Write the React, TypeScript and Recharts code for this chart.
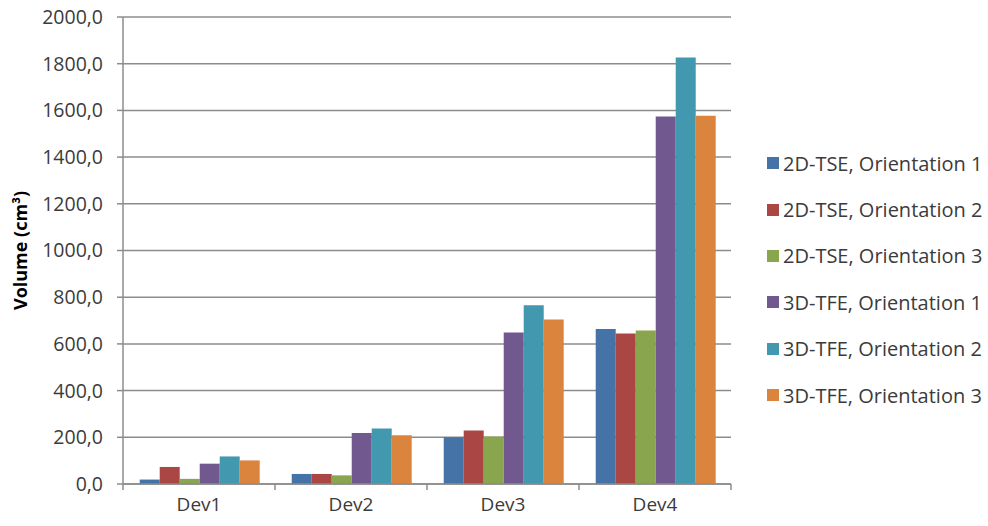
import { Bar, BarChart, CartesianGrid, XAxis, YAxis } from 'recharts'

const categories = ['Dev1', 'Dev2', 'Dev3', 'Dev4']
const seriesNames = [
  '2D-TSE, Orientation 1',
  '2D-TSE, Orientation 2',
  '2D-TSE, Orientation 3',
  '3D-TFE, Orientation 1',
  '3D-TFE, Orientation 2',
  '3D-TFE, Orientation 3',
]
const tse1 = [19, 43, 200, 664]
const tse2 = [73, 43, 229, 645]
const tse3 = [22, 37, 203, 657]
const tfe1 = [87, 218, 649, 1574]
const tfe2 = [118, 238, 765, 1827]
const tfe3 = [101, 209, 704, 1577]
const yTicks = [0, 200, 400, 600, 800, 1000, 1200, 1400, 1600, 1800, 2000]

const colors = ['#4572A7', '#AA4643', '#89A54E', '#71588F', '#4198AF', '#DB843D']
const seriesValues = [tse1, tse2, tse3, tfe1, tfe2, tfe3]

const data = categories.map((c, i) => {
  const row: Record<string, string | number> = { name: c }
  seriesNames.forEach((s, j) => {
    row[s] = seriesValues[j][i]
  })
  return row
})

const FONT = '"Open Sans", sans-serif'
const TEXT = '#3b3b3b'
const AXIS = '#8c8c8c'
const PLOT_LEFT = 123
const PLOT_RIGHT = 731
const BAND = (PLOT_RIGHT - PLOT_LEFT) / categories.length

function DevTick({ x, y, payload, index }: { x?: number; y?: number; payload?: { value: string }; index?: number }) {
  const cx = x ?? 0
  const cy = y ?? 0
  return (
    <g>
      <line x1={cx - BAND / 2} x2={cx - BAND / 2} y1={cy} y2={cy + 6} stroke={AXIS} strokeWidth={1.5} />
      {index === categories.length - 1 && (
        <line x1={cx + BAND / 2} x2={cx + BAND / 2} y1={cy} y2={cy + 6} stroke={AXIS} strokeWidth={1.5} />
      )}
      <text x={cx} y={cy + 20} textAnchor="middle" dominantBaseline="central" fill={TEXT} fontSize={19} fontFamily={FONT}>
        {payload?.value}
      </text>
    </g>
  )
}

function YLabel({ viewBox }: { viewBox?: { x: number; y: number; width: number; height: number } }) {
  const vb = viewBox ?? { x: 0, y: 0, width: 0, height: 0 }
  const cx = 20
  const cy = vb.y + vb.height / 2
  return (
    <text
      x={cx}
      y={cy}
      transform={`rotate(-90 ${cx} ${cy})`}
      textAnchor="middle"
      dominantBaseline="central"
      fill="#000"
      fontWeight="bold"
      fontSize={18}
      fontFamily={FONT}
    >
      Volume (cm³)
    </text>
  )
}

export default function App() {
  return (
    <div style={{ position: 'absolute', left: 0, top: 0, width: 988, height: 526, background: '#fff' }}>
      <BarChart
        width={988}
        height={526}
        data={data}
        margin={{ top: 17, right: 988 - PLOT_RIGHT, bottom: 0, left: 0 }}
        barGap={0}
        barCategoryGap="11%"
      >
        <CartesianGrid vertical={false} stroke={AXIS} strokeWidth={1.5} />
        <XAxis
          dataKey="name"
          height={42}
          axisLine={{ stroke: AXIS, strokeWidth: 1.5 }}
          tickLine={false}
          tickSize={0}
          tickMargin={0}
          tick={<DevTick />}
          interval={0}
        />
        <YAxis
          width={PLOT_LEFT}
          domain={[0, 2000]}
          ticks={yTicks}
          interval={0}
          axisLine={{ stroke: AXIS, strokeWidth: 1.5 }}
          tickLine={{ stroke: AXIS, strokeWidth: 1.5 }}
          tickSize={6}
          tickMargin={14}
          tick={{ fill: TEXT, fontSize: 19.5, fontFamily: FONT }}
          tickFormatter={(v: number) => v.toFixed(1).replace('.', ',')}
          label={<YLabel />}
        />
        {seriesNames.map((s, j) => (
          <Bar key={s} dataKey={s} fill={colors[j]} isAnimationActive={false} />
        ))}
      </BarChart>
      <div style={{ position: 'absolute', left: 767, top: 140, fontFamily: FONT, fontSize: 20, color: TEXT }}>
        {seriesNames.map((s, j) => (
          <div key={s} style={{ display: 'flex', alignItems: 'center', height: 46.4, whiteSpace: 'nowrap' }}>
            <span style={{ display: 'inline-block', width: 12, height: 12, background: colors[j], marginRight: 4 }} />
            {s}
          </div>
        ))}
      </div>
    </div>
  )
}
